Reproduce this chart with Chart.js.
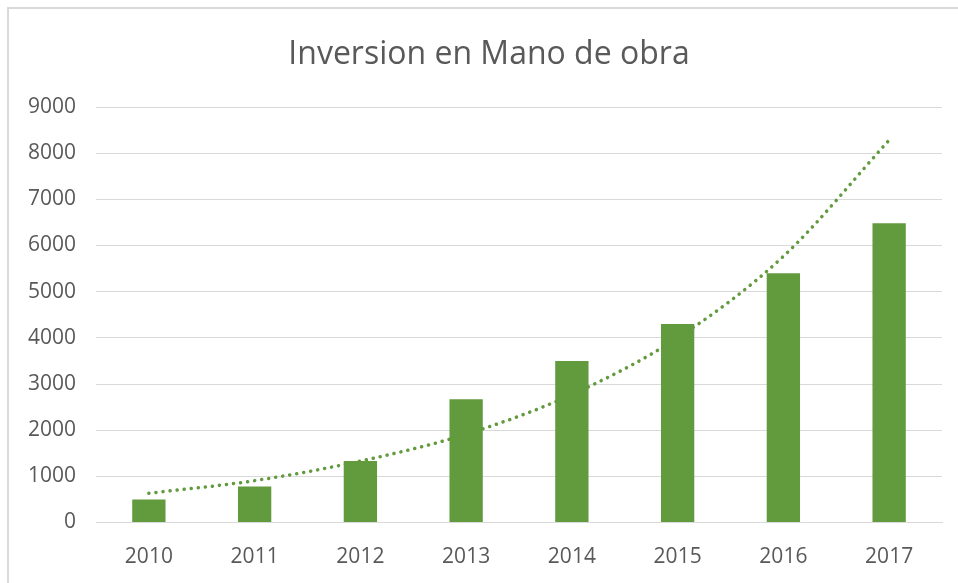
<!DOCTYPE html>
<html>
<head>
<meta charset="utf-8">
<script src="https://cdn.jsdelivr.net/npm/chart.js@4"></script>
<style>
  html, body { margin: 0; padding: 0; background: #fff; }
  #wrap { position: relative; width: 958px; height: 583px; overflow: hidden; }
  #frame { position: absolute; left: 7px; top: 7px; width: 1000px; height: 1000px;
           border-left: 2px solid #d9d9d9; border-top: 2px solid #d9d9d9; box-sizing: border-box; }
  canvas { position: absolute; left: 0; top: 0; }
</style>
</head>
<body>
<div id="wrap">
  <div id="frame"></div>
  <canvas id="c" width="958" height="583"></canvas>
</div>
<script>
const categories = ['2010', '2011', '2012', '2013', '2014', '2015', '2016', '2017'];
const inversion = [500, 780, 1330, 2670, 3500, 4300, 5400, 6480];
const tendencia = [633, 907, 1330, 1913, 2773, 4000, 5766, 8282];
const titleText = 'Inversion en Mano de obra';

const green = '#629A3E';
const grey = '#595959';
const FONT = '"Open Sans", "Noto Sans", sans-serif';

// The original chart frame extends beyond the right edge of the picture,
// so its title is centred a little to the right of the canvas middle.
const titleShift = {
  id: 'titleShift',
  afterLayout(chart) {
    const t = chart.titleBlock;
    if (t) { t.left = 36; t.right = chart.chartArea.right; t.width = t.right - t.left; }
  }
};

new Chart(document.getElementById('c'), {
  data: {
    labels: categories,
    datasets: [
      {
        type: 'line',
        label: 'Tendencia',
        data: tendencia,
        borderColor: green,
        borderWidth: 3.5,
        borderDash: [0.1, 7],
        borderCapStyle: 'round',
        pointRadius: 0,
        fill: false,
        cubicInterpolationMode: 'monotone',
        order: 0
      },
      {
        type: 'bar',
        label: 'Inversion',
        data: inversion,
        backgroundColor: green,
        categoryPercentage: 1,
        barPercentage: 0.315,
        order: 1
      }
    ]
  },
  plugins: [titleShift],
  options: {
    responsive: false,
    animation: false,
    layout: { padding: { top: 36, right: 16, left: 0, bottom: 0 } },
    plugins: {
      legend: { display: false },
      tooltip: { enabled: false },
      title: {
        display: true,
        text: titleText,
        color: grey,
        font: { family: FONT, size: 32, weight: 'normal' },
        padding: { top: 0, bottom: 32.6 }
      }
    },
    scales: {
      x: {
        offset: true,
        grid: { display: false, drawTicks: false },
        border: { display: true, color: '#d9d9d9', width: 1 },
        ticks: { color: grey, font: { family: FONT, size: 21 }, padding: 22 },
        afterFit: (s) => { s.height = 60.5; }
      },
      y: {
        min: 0,
        max: 9000,
        ticks: {
          stepSize: 1000, color: grey, font: { family: FONT, size: 21 }, padding: 20,
          callback: (v) => String(v)
        },
        grid: { color: '#d9d9d9', lineWidth: 1, drawTicks: false },
        border: { display: false },
        afterFit: (s) => { s.width = 96; }
      }
    }
  }
});
</script>
</body>
</html>
